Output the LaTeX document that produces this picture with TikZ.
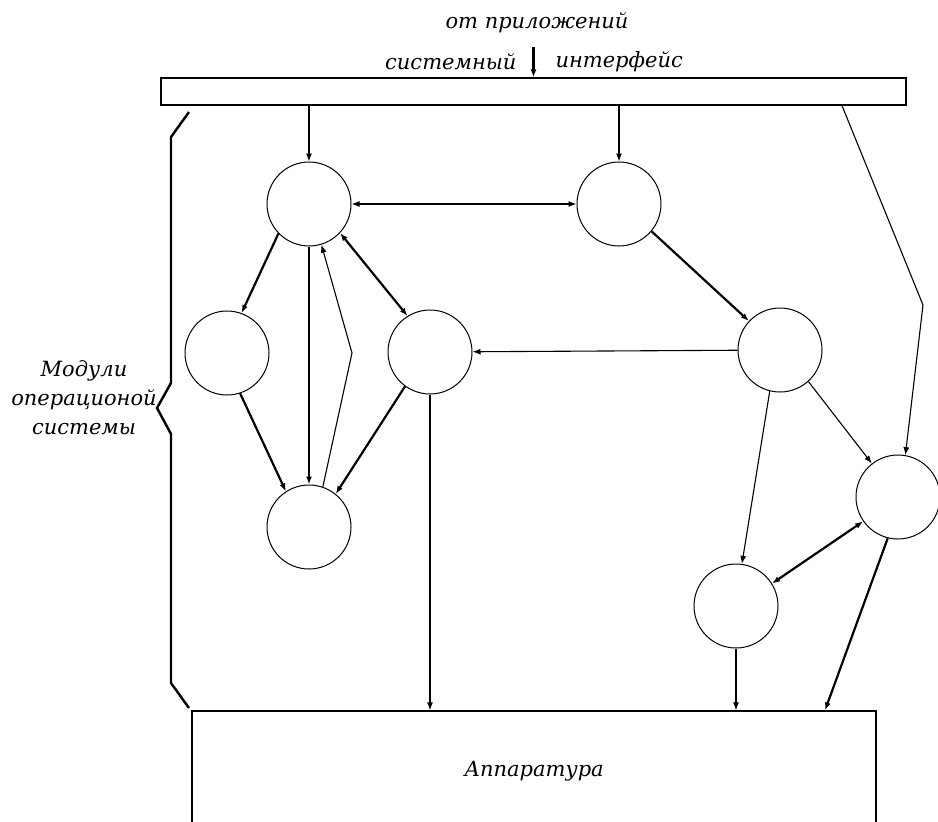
\documentclass[tikz,border=0pt]{standalone}
\usepackage{fontspec}
\setmainfont{DejaVu Serif}
\usetikzlibrary{arrows.meta}

\begin{document}
\begin{tikzpicture}[x=1pt,y=-1pt,>={Latex[length=8pt,width=6pt]},
  mod/.style={draw,circle,line width=1pt,minimum size=84pt,inner sep=0pt},
  link/.style={line width=1.1pt},
  boldlink/.style={line width=2.2pt},
  lbl/.style={font=\fontsize{21}{29}\selectfont\itshape}]
    \useasboundingbox (0,0) rectangle (938,822);
    \clip (0,0) rectangle (938,822);

    % Системный интерфейс сверху.
    \node[draw,line width=1.3pt,minimum width=745pt,minimum height=27pt,inner sep=0pt] (bar) at (533.5,91.5) {};
    \node[lbl] (apps) at (537,23) {от приложений};
    \node[lbl,anchor=east] (sys) at (520,62) {системный};
    \node[lbl,anchor=west] (ifc) at (552,62) {интерфейс};
    \coordinate (src) at (533.5,47);
    \draw[line width=2.4pt,->] (src) -- (bar.north);

    % Модули.
    \node[mod] (a) at (309,204) {};
    \node[mod] (b) at (619,204) {};
    \node[mod] (c) at (227,353) {};
    \node[mod] (d) at (430,352) {};
    \node[mod] (e) at (780,350) {};
    \node[mod] (f) at (309,527) {};
    \node[mod] (g) at (898,497) {};
    \node[mod] (h) at (736,606) {};

    % Аппаратура (низ рамки уходит за край).
    \node[draw,line width=1.3pt,minimum width=684pt,minimum height=120pt,inner sep=0pt,lbl] (hw) at (534,771) {Аппаратура};

    % Скобка и подпись.
    \draw[line width=2.4pt] (189,112) -- (171,137) -- (171,383) -- (157,408) -- (171,434) -- (171,683) -- (189,708);
    \node[lbl,align=center] (mods) at (84,398) {Модули\\операционой\\системы};

    % Связи.
    \coordinate (fk) at (352,353);
    \coordinate (gk) at (923,305);
    \draw[link,->] (a |- bar.south) -- (a.north);
    \draw[link,->] (b |- bar.south) -- (b.north);
    \draw[link,->] ([xshift=308.5pt]bar.south) -- (gk) -- (g.80);
    \draw[link,<->] (a) -- (b);
    \draw[boldlink,->] (a.224) -- (c.70);
    \draw[boldlink,->] (a.south) -- (f.north);
    \draw[link,->] (f.71) -- (fk) -- (a.-73);
    \draw[boldlink,<->] (a.-43) -- (d.122);
    \draw[boldlink,->] (c.-72) -- (f.123);
    \draw[boldlink,->] (d.234) -- (f.51);
    \draw[link,->] (d.south) -- (d.south |- hw.north);
    \draw[boldlink,->] (b.-40) -- (e.137);
    \draw[link,->] (e) -- (d);
    \draw[link,->] (e.-104) -- (h.82);
    \draw[link,->] (e.-48) -- (g.128);
    \draw[boldlink,<->] (g.215) -- (h.32);
    \draw[boldlink,->] (g.-104) -- ([xshift=291pt]hw.north);
    \draw[link,->] (h.south) -- (h.south |- hw.north);
  \end{tikzpicture}
\end{document}
